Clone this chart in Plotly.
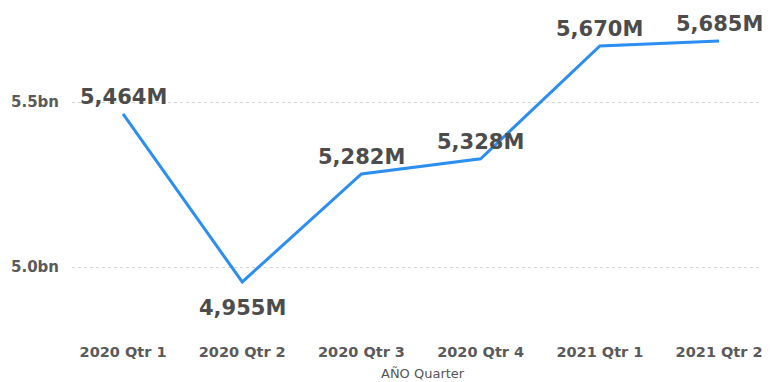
import plotly.graph_objects as go

# --- DATA ---
quarters = ["2020 Qtr 1", "2020 Qtr 2", "2020 Qtr 3", "2020 Qtr 4", "2021 Qtr 1", "2021 Qtr 2"]
values = [5464e6, 4955e6, 5282e6, 5328e6, 5670e6, 5685e6]
y_ticks = [5.0e9, 5.5e9]
y_tick_labels = ["5.0bn", "5.5bn"]
label_pos = ["top", "bottom", "top", "top", "top", "top"]

fig = go.Figure()
fig.add_trace(go.Scatter(
    x=quarters, y=values, mode="lines",
    line=dict(color="#2b8ef0", width=3),
    hoverinfo="skip",
))

# data labels above/below each point
for q, v, pos in zip(quarters, values, label_pos):
    fig.add_annotation(
        x=q, y=v, text=f"{v/1e6:,.0f}M", showarrow=False,
        yanchor="bottom" if pos == "top" else "top",
        yshift=3 if pos == "top" else -12,
        font=dict(family="DejaVu Sans", size=21, color="#4c4c4c", weight="bold"),
    )

# axis title
fig.add_annotation(
    x=0.508, y=-0.099, xref="paper", yref="paper", yanchor="middle",
    text="AÑO Quarter", showarrow=False,
    font=dict(family="DejaVu Sans", size=13, color="#555555"),
)

# page body has an 8px margin, so keep the figure inside the window
fig.update_layout(
    width=754, height=374,
    margin=dict(l=64, r=0, t=0, b=41),
    paper_bgcolor="white", plot_bgcolor="white",
    showlegend=False,
    xaxis=dict(
        range=[-0.428, 5.36], showgrid=False, zeroline=False, showline=False,
        ticks="", automargin=False,
        tickfont=dict(family="DejaVu Sans", size=14.5, color="#5a5a5a", weight="bold"),
    ),
    yaxis=dict(
        range=[4.776e9, 5.785e9], tickvals=y_ticks, ticktext=y_tick_labels,
        showgrid=True, gridcolor="#d6d6d6", griddash="dot", gridwidth=1,
        zeroline=False, showline=False, ticks="", automargin=False,
        ticklabelstandoff=12,
        tickfont=dict(family="DejaVu Sans", size=15, color="#5a5a5a", weight="bold"),
    ),
)

fig.write_html("out.html")
